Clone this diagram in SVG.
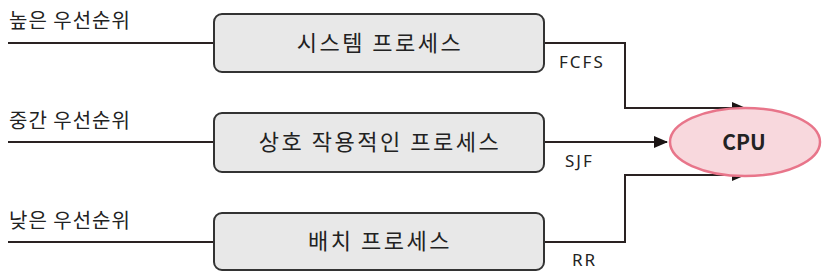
<svg xmlns="http://www.w3.org/2000/svg" width="831" height="276" viewBox="0 0 831 276">
<style>
.box{fill:#e8e8e8;stroke:#333;stroke-width:2}
.ln{fill:none;stroke:#2a2222;stroke-width:2}
.t{font-family:"Noto Sans CJK KR","Noto Sans",sans-serif;fill:#222}
.lbl{font-size:20px;letter-spacing:1px}
.bt{font-size:22px;text-anchor:middle;letter-spacing:2.5px}
.sm{font-family:"Noto Sans","Liberation Sans",sans-serif;font-size:17px;fill:#222;letter-spacing:2px}
</style>
<defs>
<marker id="ah" markerWidth="14" markerHeight="12" refX="13" refY="6" orient="auto" markerUnits="userSpaceOnUse">
<path d="M0,0 L14,6 L0,12 Z" fill="#1a1414"/>
</marker>
</defs>
<rect width="831" height="276" fill="#fff"/>
<g id="connectors">
<path class="ln" d="M8,43 H214"/>
<path class="ln" d="M8,142 H214"/>
<path class="ln" d="M8,242 H214"/>
<path class="ln" d="M544,43 H625 V108 H745" marker-end="url(#ah)"/>
<path class="ln" d="M544,142 H667" marker-end="url(#ah)"/>
<path class="ln" d="M544,242 H625 V175 H745" marker-end="url(#ah)"/>
</g>
<g id="labels">
<text class="t lbl" x="9" y="28">높은 우선순위</text>
<text class="t lbl" x="9" y="128">중간 우선순위</text>
<text class="t lbl" x="9" y="228">낮은 우선순위</text>
<text class="sm" x="559" y="68">FCFS</text>
<text class="sm" x="565" y="167">SJF</text>
<text class="sm" x="572" y="266">RR</text>
</g>
<g id="cpu">
<ellipse cx="745" cy="142" rx="75" ry="34" fill="#f8d8dd" stroke="#e8758a" stroke-width="2.5"/>
<text class="t" x="744" y="150" font-size="21" font-weight="bold" text-anchor="middle">CPU</text>
</g>
<g id="system">
<rect class="box" x="214" y="14" width="330" height="58" rx="8"/>
<text class="t bt" x="380" y="51">시스템 프로세스</text>
</g>
<g id="interactive">
<rect class="box" x="214" y="113" width="330" height="59" rx="8"/>
<text class="t bt" x="380" y="150">상호 작용적인 프로세스</text>
</g>
<g id="batch">
<rect class="box" x="214" y="213" width="330" height="57" rx="8"/>
<text class="t bt" x="380" y="249">배치 프로세스</text>
</g>
</svg>
